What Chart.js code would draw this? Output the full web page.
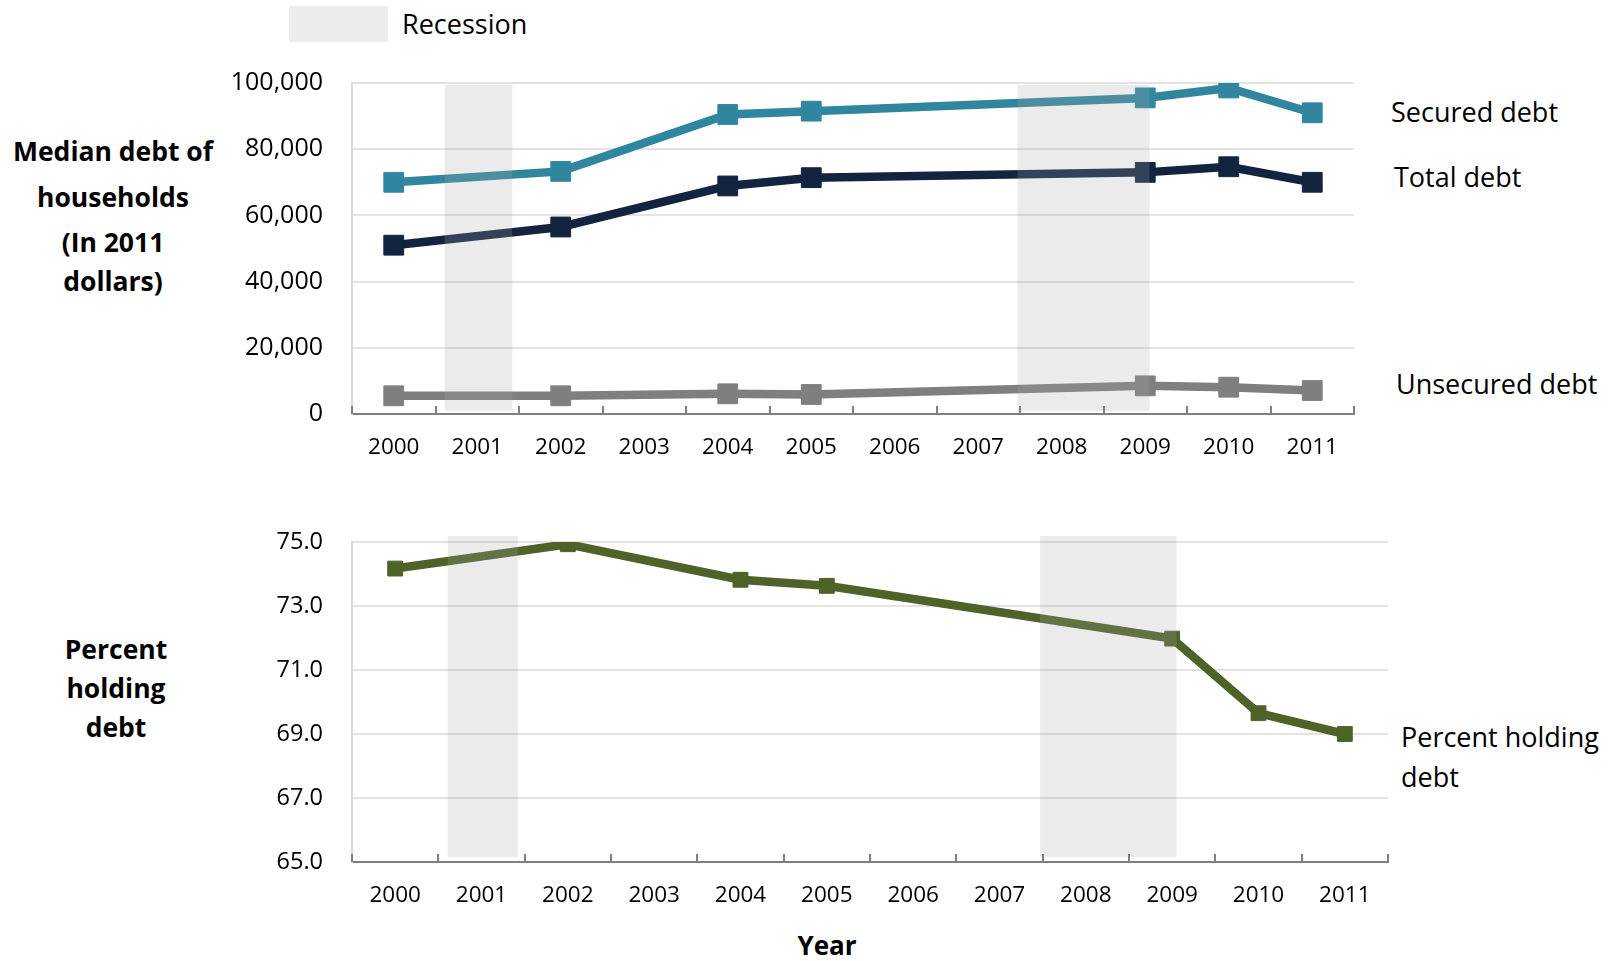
<!doctype html>
<html lang="en">

<head>
    <meta charset="utf-8">
    <title>Median debt of households</title>
    <script src="https://cdn.jsdelivr.net/npm/chart.js"></script>
    <style>
        body {
            margin: 0;
            background: #fff;
            font-family: 'Open Sans', sans-serif;
            color: #000;
        }

        #page {
            position: relative;
            width: 1610px;
            height: 961px;
            overflow: hidden;
        }

        canvas {
            position: absolute;
            left: 0;
        }

        .lbl {
            position: absolute;
            white-space: nowrap;
            font-size: 27px;
            line-height: 40px;
        }

        .ttl {
            position: absolute;
            font-weight: bold;
            font-size: 26.5px;
            text-align: center;
            width: 230px;
        }
    </style>
</head>

<body>
    <div id="page">
        <div style="position:absolute;left:289px;top:6px;width:99px;height:36px;background:#ececec"></div>
        <div class="lbl" style="left:402px;top:4px">Recession</div>

        <div class="ttl" style="left:-2px;top:128px;line-height:46px">Median debt of<br>households</div>
        <div class="ttl" style="left:-2px;top:223px;line-height:39px">(In 2011<br>dollars)</div>

        <div class="lbl" style="left:1391px;top:92px">Secured debt</div>
        <div class="lbl" style="left:1394px;top:157px">Total debt</div>
        <div class="lbl" style="left:1396px;top:364px">Unsecured debt</div>

        <div class="ttl" style="left:1px;top:630px;line-height:39px">Percent<br>holding<br>debt</div>
        <div class="lbl" style="left:1401px;top:717px">Percent holding<br>debt</div>

        <div class="ttl" style="left:712px;top:925px;line-height:40px;font-size:26px">Year</div>

        <canvas id="topchart" width="1610" height="470" style="top:0"></canvas>
        <canvas id="bottomchart" width="1610" height="491" style="top:470px"></canvas>
    </div>

    <script>
        const years = ['2000', '2001', '2002', '2003', '2004', '2005', '2006', '2007', '2008', '2009', '2010', '2011'];
        const securedDebt = [70000, null, 73300, null, 90500, 91500, null, null, null, 95500, 98500, 91000];
        const totalDebt = [51000, null, 56500, null, 68900, 71400, null, null, null, 73000, 74700, 70000];
        const unsecuredDebt = [5500, null, 5500, null, 6100, 5900, null, null, null, 8500, 8100, 7100];
        const percentHolding = [74.17, null, 74.93, null, 73.82, 73.63, null, null, null, 71.98, 69.65, 69.0];
        const recessionStart = [2000.61, 2007.47];
        const recessionEnd = [2001.42, 2009.05];

        Chart.defaults.font.family = "'Open Sans', sans-serif";
        Chart.defaults.color = '#000';

        // grey recession bands laid over the lines, plus the little inward tick marks
        const recessionPlugin = {
            id: 'recession',
            afterDatasetsDraw(chart, args, opts) {
                const ctx = chart.ctx;
                const x = chart.scales.x;
                const area = chart.chartArea;
                ctx.save();
                ctx.fillStyle = 'rgba(170,170,170,0.23)';
                for (let i = 0; i < recessionStart.length; i++) {
                    const x0 = x.getPixelForValue(recessionStart[i] - 2000);
                    const x1 = x.getPixelForValue(recessionEnd[i] - 2000);
                    ctx.fillRect(x0, area.top + opts.top, x1 - x0, area.bottom - area.top - opts.top - opts.bottom);
                }
                ctx.strokeStyle = '#7f7f7f';
                ctx.lineWidth = 2;
                for (let i = 0; i <= years.length; i++) {
                    const px = Math.round(x.getPixelForValue(i - 0.5));
                    ctx.beginPath();
                    ctx.moveTo(px, area.bottom);
                    ctx.lineTo(px, area.bottom - 8);
                    ctx.stroke();
                }
                ctx.restore();
            }
        };

        function lineSet(data, color, width, radius) {
            return {
                data: data,
                borderColor: color,
                backgroundColor: color,
                borderWidth: width,
                pointStyle: 'rect',
                pointRadius: radius,
                pointBorderWidth: 1,
                spanGaps: true,
                tension: 0
            };
        }

        function makeOptions(pad, axisHeight, yMin, yMax, step, fmt, yFont, bands) {
            return {
                responsive: false,
                animation: false,
                events: [],
                layout: { padding: pad },
                plugins: {
                    legend: { display: false },
                    tooltip: { enabled: false },
                    recession: bands
                },
                scales: {
                    x: {
                        offset: true,
                        grid: { display: false, drawTicks: false },
                        border: { color: '#7f7f7f', width: 2 },
                        ticks: { padding: 20, font: { size: 22.5 }, maxRotation: 0 },
                        afterFit(scale) { scale.height = axisHeight; }
                    },
                    y: {
                        min: yMin,
                        max: yMax,
                        grid: { color: '#e3e3e3', lineWidth: 2, drawTicks: false },
                        border: { color: '#d9d9d9', width: 2 },
                        ticks: { stepSize: step, padding: 29, font: { size: yFont }, callback: fmt },
                        afterFit(scale) { scale.width = 352; }
                    }
                }
            };
        }

        new Chart(document.getElementById('topchart'), {
            type: 'line',
            data: {
                labels: years,
                datasets: [
                    lineSet(securedDebt, '#31869f', 8.5, 14),
                    lineSet(totalDebt, '#12243f', 8.5, 14),
                    lineSet(unsecuredDebt, '#7f7f7f', 8.5, 14)
                ]
            },
            options: makeOptions({ top: 83, right: 256, left: 0, bottom: 0 }, 56, 0, 100000, 20000,
                v => v.toLocaleString('en-US'), 25, { top: 2, bottom: 3 }),
            plugins: [recessionPlugin]
        });

        new Chart(document.getElementById('bottomchart'), {
            type: 'line',
            data: {
                labels: years,
                datasets: [
                    lineSet(percentHolding, '#4f6228', 8.5, 10.5)
                ]
            },
            options: makeOptions({ top: 72, right: 222, left: 0, bottom: 0 }, 99, 65, 75, 2,
                v => v.toFixed(1), 23.5, { top: -6, bottom: 5 }),
            plugins: [recessionPlugin]
        });
    </script>
</body>

</html>
